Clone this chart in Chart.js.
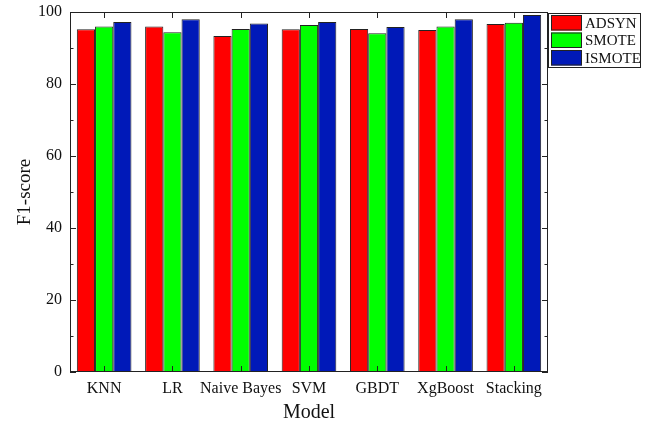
<!DOCTYPE html>
<html>
<head>
<meta charset="utf-8">
<script src="https://cdn.jsdelivr.net/npm/chart.js@4/dist/chart.umd.min.js"></script>
<style>
  html, body { margin: 0; padding: 0; background: #fff; }
  #wrap { width: 648px; height: 425px; position: relative; }
</style>
</head>
<body>
<div id="wrap"><canvas id="barChart" width="648" height="425"></canvas></div>
<script>
const models = ['KNN', 'LR', 'Naive Bayes', 'SVM', 'GBDT', 'XgBoost', 'Stacking'];
const adsyn  = [95.2, 96.0, 93.3, 95.2, 95.3, 95.0, 96.7];
const smote  = [96.0, 94.4, 95.3, 96.4, 94.1, 96.0, 97.0];
const ismote = [97.2, 98.0, 96.8, 97.2, 95.8, 98.0, 99.2];
const yTicks = [0, 20, 40, 60, 80, 100];
const yMinorTicks = [10, 30, 50, 70, 90];

const serif = '"Liberation Serif", "Times New Roman", serif';

// ticks that point into the plot, plus the closing frame
const frameTicks = {
    id: 'frameTicks',
    afterDatasetsDraw(chart) {
        const {ctx, chartArea: a, scales: {x, y}} = chart;
        ctx.save();
        ctx.strokeStyle = '#222';
        ctx.lineWidth = 1;
        ctx.strokeRect(a.left + 0.5, a.top + 0.5, a.right - a.left - 1, a.bottom - a.top - 1);
        ctx.beginPath();
        yTicks.forEach(v => {
            const py = Math.round(y.getPixelForValue(v)) + 0.5;
            ctx.moveTo(a.left, py); ctx.lineTo(a.left + 6, py);
            ctx.moveTo(a.right, py); ctx.lineTo(a.right - 6, py);
        });
        yMinorTicks.forEach(v => {
            const py = Math.round(y.getPixelForValue(v)) + 0.5;
            ctx.moveTo(a.left, py); ctx.lineTo(a.left + 3.5, py);
            ctx.moveTo(a.right, py); ctx.lineTo(a.right - 3.5, py);
        });
        models.forEach((m, i) => {
            const px = Math.round(x.getPixelForTick(i)) + 0.5;
            ctx.moveTo(px, a.bottom); ctx.lineTo(px, a.bottom - 6);
            ctx.moveTo(px, a.top); ctx.lineTo(px, a.top + 6);
        });
        ctx.stroke();
        ctx.restore();
    }
};

// boxed legend sitting on the right edge of the frame
const boxLegend = {
    id: 'boxLegend',
    afterDraw(chart) {
        const {ctx, chartArea: a} = chart;
        const left = a.right, top = a.top + 1, w = 92, rowH = 17.5;
        const sets = chart.data.datasets;
        ctx.save();
        ctx.fillStyle = '#fff';
        ctx.fillRect(left, top, w, rowH * sets.length + 1.5);
        ctx.strokeStyle = '#222';
        ctx.lineWidth = 1;
        ctx.strokeRect(left + 0.5, top + 0.5, w, rowH * sets.length + 1.5);
        ctx.font = '15px ' + serif;
        ctx.textBaseline = 'middle';
        sets.forEach((ds, i) => {
            const ry = top + 2 + i * rowH;
            ctx.fillStyle = ds.backgroundColor;
            ctx.fillRect(left + 3, ry, 31, rowH - 2);
            ctx.strokeStyle = '#222';
            ctx.strokeRect(left + 3.5, ry + 0.5, 30, rowH - 3);
            ctx.fillStyle = '#111';
            ctx.fillText(ds.label, left + 37, ry + rowH / 2);
        });
        ctx.restore();
    }
};

new Chart(document.getElementById('barChart').getContext('2d'), {
    type: 'bar',
    data: {
        labels: models,
        datasets: [
            { label: 'ADSYN', data: adsyn, backgroundColor: '#ff0000', borderColor: '#222', borderWidth: 1 },
            { label: 'SMOTE', data: smote, backgroundColor: '#00ff00', borderColor: '#222', borderWidth: 1 },
            { label: 'ISMOTE', data: ismote, backgroundColor: '#0019b8', borderColor: '#222', borderWidth: 1 }
        ]
    },
    options: {
        responsive: false,
        animation: false,
        layout: { padding: { left: 0, right: 100, top: 12, bottom: 0 } },
        datasets: { bar: { categoryPercentage: 0.8, barPercentage: 1.0 } },
        plugins: { legend: { display: false }, tooltip: { enabled: false } },
        scales: {
            x: {
                grid: { display: false, drawTicks: false },
                border: { display: false },
                ticks: { color: '#111', font: { family: serif, size: 16 }, padding: 7, maxRotation: 0, autoSkip: false },
                title: { display: true, text: 'Model', color: '#111', font: { family: serif, size: 20 }, padding: { top: 0, bottom: 0 } },
                afterFit(scale) { scale.height = 53; scale.paddingLeft = 0; scale.paddingRight = 0; }
            },
            y: {
                min: 0,
                max: 100,
                grid: { display: false, drawTicks: false },
                border: { display: false },
                ticks: { stepSize: 20, color: '#111', font: { family: serif, size: 16 }, padding: 8 },
                title: { display: true, text: 'F1-score', color: '#111', font: { family: serif, size: 19 }, padding: { top: 14, bottom: 0 } },
                afterFit(scale) { scale.width = 70; scale.paddingTop = 0; scale.paddingBottom = 0; }
            }
        }
    },
    plugins: [frameTicks, boxLegend]
});
</script>
</body>
</html>
